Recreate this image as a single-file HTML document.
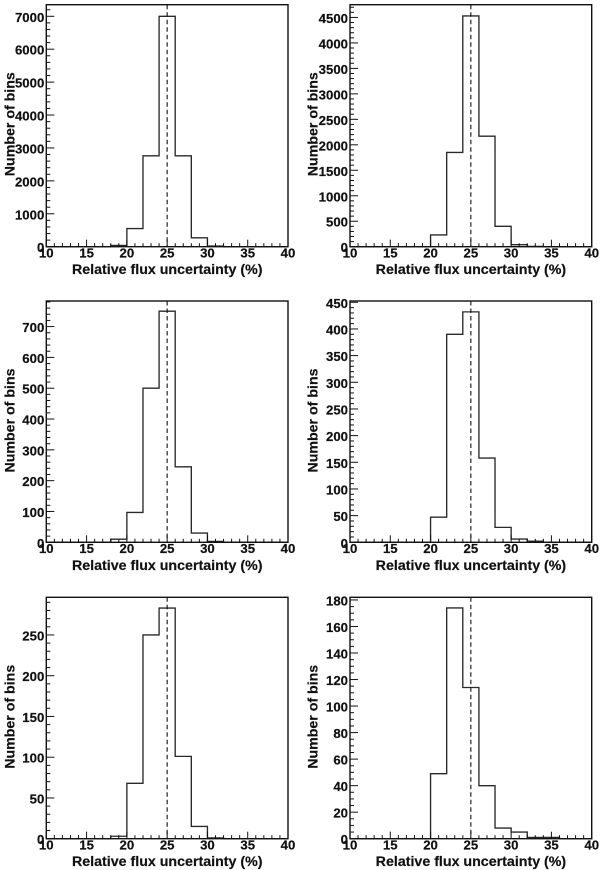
<!DOCTYPE html>
<html lang="en">
<head>
<meta charset="utf-8">
<title>Relative flux uncertainty histograms</title>
<style>
  html, body { margin: 0; padding: 0; background: #fff; }
  svg { display: block; }
  text { font-family: "Liberation Sans", sans-serif; font-weight: bold; fill: #111; stroke: #111; stroke-width: 0.2px; }
</style>
</head>
<body>
<svg id="figure" width="600" height="870" viewBox="0 0 600 870" xmlns="http://www.w3.org/2000/svg"></svg>
<script>
const binEdges = [10,12,14,16,18,20,22,24,26,28,30,32,34,36,38,40];
const xTicks = [10,15,20,25,30,35,40];
const xMinorStep = 1;
const referenceValue = 25;
const xTitle = "Relative flux uncertainty (%)";
const yTitle = "Number of bins";

const counts1 = [0,0,0,0,40,550,2760,7000,2760,270,20,0,0,0,0];
const counts2 = [0,0,0,0,0,230,1850,4530,2170,400,40,5,0,0,0];
const counts3 = [0,0,0,0,10,97,500,750,245,30,3,0,0,0,0];
const counts4 = [0,0,0,0,0,47,390,432,158,28,6,2,0,0,0];
const counts5 = [0,0,0,0,3,68,250,283,101,15,1,0,0,0,0];
const counts6 = [0,0,0,0,0,49,174,114,40,8,5,1,1,0,0];

const yTicks1 = [0,1000,2000,3000,4000,5000,6000,7000];
const yTicks2 = [0,500,1000,1500,2000,2500,3000,3500,4000,4500];
const yTicks3 = [0,100,200,300,400,500,600,700];
const yTicks4 = [0,50,100,150,200,250,300,350,400,450];
const yTicks5 = [0,50,100,150,200,250];
const yTicks6 = [0,20,40,60,80,100,120,140,160,180];

const yMax1 = 7352;
const yMax2 = 4750;
const yMax3 = 783;
const yMax4 = 452.4;
const yMax5 = 296.2;
const yMax6 = 182;

const panels = [
  { id: 1, counts: counts1, ticks: yTicks1, yMax: yMax1, minorDiv: 5, left: 46.3, right: 288, top: 4.7, bottom: 246.7, titleX: 14.7 },
  { id: 2, counts: counts2, ticks: yTicks2, yMax: yMax2, minorDiv: 5, left: 350, right: 591.7, top: 4.7, bottom: 246.7, titleX: 317.5 },
  { id: 3, counts: counts3, ticks: yTicks3, yMax: yMax3, minorDiv: 5, left: 46.3, right: 288, top: 301, bottom: 542.3, titleX: 14.7 },
  { id: 4, counts: counts4, ticks: yTicks4, yMax: yMax4, minorDiv: 5, left: 350, right: 591.7, top: 301, bottom: 542.3, titleX: 317.5 },
  { id: 5, counts: counts5, ticks: yTicks5, yMax: yMax5, minorDiv: 5, left: 46.3, right: 288, top: 597.3, bottom: 838.7, titleX: 14.7 },
  { id: 6, counts: counts6, ticks: yTicks6, yMax: yMax6, minorDiv: 4, left: 350, right: 591.7, top: 597.3, bottom: 838.7, titleX: 317.5 }
];

const SVG_NS = "http://www.w3.org/2000/svg";
const figure = document.getElementById("figure");

function make(parent, tag, attrs) {
  const el = document.createElementNS(SVG_NS, tag);
  for (const key in attrs) el.setAttribute(key, attrs[key]);
  parent.appendChild(el);
  return el;
}

function drawPanel(p) {
  const xScale = v => p.left + (v - 10) / 30 * (p.right - p.left);
  const yScale = v => p.bottom - v / p.yMax * (p.bottom - p.top);

  const g = make(figure, "g", {});
  
  

  // Histogram outline built from bin edges and counts
  let d = "M" + xScale(binEdges[0]) + " " + yScale(0);
  p.counts.forEach((c, i) => {
    const y = yScale(c);
    d += " L" + xScale(binEdges[i]) + " " + y + " L" + xScale(binEdges[i + 1]) + " " + y;
  });
  d += " L" + xScale(binEdges[binEdges.length - 1]) + " " + yScale(0);
  const hist = make(g, "path", { d: d, fill: "none", stroke: "#2a2a2a", "stroke-width": 1.35 });
  
  

  // Dashed reference line
  const ref = make(g, "line", {
    x1: xScale(referenceValue), x2: xScale(referenceValue), y1: p.top, y2: p.bottom,
    stroke: "#111", "stroke-width": 1.1, "stroke-dasharray": "4.5 3"
  });
  
  

  // X axis ticks
  const xAxis = make(g, "g", { stroke: "#111", "stroke-width": 1 });
  
  
  for (let v = binEdges[0]; v <= binEdges[binEdges.length - 1]; v += xMinorStep) {
    const len = xTicks.includes(v) ? 7 : 3.5;
    make(xAxis, "line", { x1: xScale(v), x2: xScale(v), y1: p.bottom, y2: p.bottom - len });
  }
  xTicks.forEach(v => {
    const label = make(g, "text", { x: xScale(v), y: p.bottom + 10.6, "text-anchor": "middle", "font-size": 13.2 });
    
    
    label.textContent = v;
  });

  // Y axis ticks
  const yAxis = make(g, "g", { stroke: "#111", "stroke-width": 1 });
  
  
  const step = p.ticks[1] - p.ticks[0];
  const minorStep = step / p.minorDiv;
  for (let k = 0; k * minorStep <= p.yMax; k++) {
    const v = k * minorStep;
    const len = k % p.minorDiv === 0 ? 8 : 4;
    make(yAxis, "line", { x1: p.left, x2: p.left + len, y1: yScale(v), y2: yScale(v) });
  }
  p.ticks.forEach(v => {
    const label = make(g, "text", { x: p.left - 2, y: yScale(v) + 5.5, "text-anchor": "end", "font-size": 13.2 });
    
    
    label.textContent = v;
  });

  // Plot frame
  const frame = make(g, "rect", {
    x: p.left, y: p.top, width: p.right - p.left, height: p.bottom - p.top,
    fill: "none", stroke: "#111", "stroke-width": 1.4
  });
  
  

  // Axis titles
  const xLabel = make(g, "text", {
    x: (p.left + p.right) / 2 + 0.1, y: p.bottom + 27.5, "text-anchor": "middle",
    "font-size": 14.2, textLength: 190.5, lengthAdjust: "spacingAndGlyphs"
  });
  
  
  xLabel.textContent = xTitle;

  const cy = p.top + 119.5;
  const yLabel = make(g, "text", {
    x: p.titleX, y: cy, "text-anchor": "middle", "font-size": 14.2,
    textLength: 104, lengthAdjust: "spacingAndGlyphs",
    transform: "rotate(-90 " + p.titleX + " " + cy + ")"
  });
  
  
  yLabel.textContent = yTitle;
}

panels.forEach(drawPanel);
</script>
</body>
</html>
